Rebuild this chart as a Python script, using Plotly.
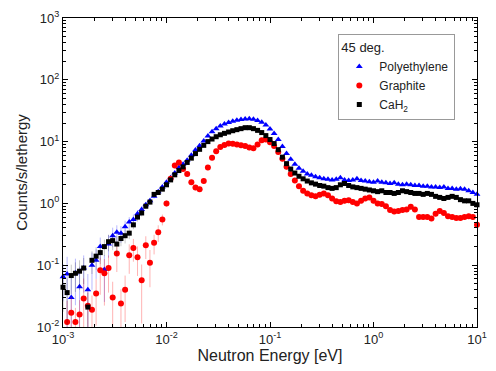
import plotly.graph_objects as go

# energy grid: 25 log-spaced bins per decade (mantissas), 1e-3 .. 10 eV
MANTISSA = [1.000, 1.096, 1.202, 1.318, 1.445, 1.585, 1.738, 1.905, 2.089, 2.291,
            2.512, 2.754, 3.020, 3.311, 3.631, 3.981, 4.365, 4.786, 5.248, 5.754,
            6.310, 6.918, 7.586, 8.318, 9.120]
DECADES = [1e-3, 1e-2, 1e-1, 1e0]
energy = [m * d for d in DECADES for m in MANTISSA] + [10.0]

polyethylene = [
    0.065, 0.072, 0.030, 0.075, 0.045, 0.090, 0.040, 0.100, 0.120, 0.200,
    0.085, 0.220, 0.300, 0.340, 0.330, 0.420, 0.500, 0.550, 0.680, 0.800,
    0.950, 1.10, 1.30, 1.55, 1.85, 2.20,
    2.6, 3.1, 3.8, 4.3, 5.0, 6.0, 7.3, 8.6, 10.2, 12.3,
    14.5, 16.2, 17.8, 19.2, 20.3, 21.3, 22.2, 22.8, 23.3, 23.5,
    23.0, 22.0, 20.5, 18.5, 16.0, 13.5, 10.8, 8.3, 6.4, 5.2,
    4.3, 3.7, 3.3, 3.0, 2.85, 2.7, 2.6, 2.5, 2.45, 2.4,
    2.45, 2.6, 2.4, 2.35, 2.4, 2.5, 2.35, 2.3, 2.25, 2.2,
    2.3, 2.2, 2.15, 2.1, 2.15, 2.05, 2.0, 2.05, 2.0, 1.95,
    1.95, 1.9, 1.9, 1.85, 1.85, 1.8, 1.85, 1.75, 1.75, 1.7,
    1.72, 1.7, 1.6, 1.5, 1.4]

graphite = [
    None, 0.012, 0.017, 0.012, 0.016, 0.029, 0.022, 0.019, 0.035, 0.083,
    0.074, 0.090, 0.030, 0.155, 0.024, 0.040, 0.145, 0.190, 0.134, 0.057,
    0.210, 0.110, 0.230, 0.340, 0.550, 1.00,
    2.5, 4.1, 4.6, 3.6, 3.0, 2.2, 1.8, 1.7, 2.3, 3.8,
    5.5, 7.0, 8.2, 8.8, 9.3, 9.2, 9.0, 8.7, 8.5, 8.0,
    7.8, 9.0, 10.5, 10.8, 9.8, 8.5, 6.8, 5.3, 3.9, 3.0,
    2.35, 1.9, 1.6, 1.45, 1.35, 1.3, 1.38, 1.45, 1.35, 1.2,
    1.08, 1.05, 1.1, 1.12, 1.05, 1.0, 1.1, 1.2, 1.25, 1.1,
    1.0, 0.98, 0.9, 0.78, 0.74, 0.75, 0.78, 0.8, 0.88, 0.8,
    0.6, 0.6, 0.6, 0.57, 0.68, 0.75, 0.7, 0.62, 0.6, 0.58,
    0.58, 0.6, 0.62, 0.6, 0.45]

cah2 = [
    0.044, 0.036, 0.068, 0.074, 0.080, 0.090, 0.021, 0.120, 0.140, 0.160,
    0.200, 0.240, 0.250, 0.220, 0.270, 0.300, 0.330, 0.450, 0.600, 0.700,
    0.900, 1.05, 1.40, 1.50, 1.70, 2.00,
    2.4, 2.9, 3.4, 3.9, 4.6, 5.4, 6.4, 7.5, 8.7, 10.0,
    11.0, 12.0, 12.9, 13.6, 14.3, 15.0, 15.6, 16.2, 16.8, 16.8,
    16.2, 15.2, 14.0, 12.5, 10.8, 9.3, 7.4, 5.6, 4.4, 3.6,
    3.1, 2.75, 2.5, 2.3, 2.15, 2.05, 1.95, 1.9, 1.8, 1.75,
    1.8, 2.0, 2.1, 1.95, 1.85, 1.8, 1.75, 1.7, 1.65, 1.6,
    1.55, 1.6, 1.5, 1.5, 1.45, 1.5, 1.6, 1.55, 1.5, 1.45,
    1.45, 1.4, 1.45, 1.4, 1.3, 1.25, 1.2, 1.25, 1.3, 1.25,
    1.15, 1.1, 1.1, 1.0, 0.95]

# relative statistical errors: low-energy bins listed, constant above
REL_ERR_POLY_LOW = [0.6, 0.9, 1.2, 0.7, 1.1, 0.6, 0.8, 0.6, 0.5, 0.4, 0.7, 0.4, 0.35,
                    0.3, 0.3, 0.25, 0.2, 0.2, 0.15, 0.12, 0.1, 0.1, 0.08, 0.07, 0.06, 0.05]
REL_ERR_GRAPH_LOW = [0.0, 1.2, 0.8, 0.7, 0.7, 1.1, 0.7, 0.7, 0.7, 0.6, 0.7, 0.6, 0.8,
                     0.5, 0.7, 0.7, 0.5, 0.4, 0.5, 0.8, 0.4, 0.6, 0.35, 0.3, 0.2, 0.12]
REL_ERR_CAH2_LOW = [0.6, 0.7, 0.5, 0.5, 0.5, 0.45, 0.7, 0.4, 0.4, 0.35, 0.3, 0.3, 0.3,
                    0.35, 0.25, 0.25, 0.2, 0.15, 0.15, 0.12, 0.1, 0.1, 0.08, 0.07, 0.06, 0.05]
REL_ERR_POLY_HIGH = 0.02
REL_ERR_GRAPH_HIGH = 0.1
REL_ERR_CAH2_HIGH = 0.02

# tick labels
X_TICKS = [1e-3, 1e-2, 1e-1, 1e0, 1e1]
X_TICKTEXT = ["10<sup>-3</sup>", "10<sup>-2</sup>", "10<sup>-1</sup>",
              "10<sup>0</sup>", "10<sup>1</sup>"]
Y_TICKS = [1e-2, 1e-1, 1e0, 1e1, 1e2, 1e3]
Y_TICKTEXT = ["10<sup>-2</sup>", "10<sup>-1</sup>", "10<sup>0</sup>",
              "10<sup>1</sup>", "10<sup>2</sup>", "10<sup>3</sup>"]
X_MINOR = [m * 10.0 ** d for d in range(-3, 1) for m in range(2, 10)]
Y_MINOR = [m * 10.0 ** d for d in range(-2, 3) for m in range(2, 10)]


def abs_err(vals, low, high):
    rel = low + [high] * (len(vals) - len(low))
    return [(v * r if v is not None else 0) for v, r in zip(vals, rel)]


FONT = "Liberation Sans, Arial, sans-serif"

fig = go.Figure()

series = [
    ("Polyethylene", polyethylene, REL_ERR_POLY_LOW, REL_ERR_POLY_HIGH,
     "#0000ff", "rgba(0,0,255,0.28)", "triangle-up", 6),
    ("Graphite", graphite, REL_ERR_GRAPH_LOW, REL_ERR_GRAPH_HIGH,
     "#ff0000", "rgba(255,0,0,0.30)", "circle", 6),
    ("CaH<sub>2</sub>", cah2, REL_ERR_CAH2_LOW, REL_ERR_CAH2_HIGH,
     "#000000", "rgba(0,0,0,0.22)", "square", 5),
]

for name, vals, low, high, col, ecol, sym, size in series:
    err = abs_err(vals, low, high)
    fig.add_trace(go.Scatter(
        x=energy, y=vals, mode="markers", name=name,
        marker=dict(symbol=sym, color=col, size=size, line=dict(width=0)),
        error_y=dict(type="data", array=err, symmetric=True, color=ecol,
                     thickness=1, width=0, visible=True),
        cliponaxis=False,
    ))

axis_common = dict(
    type="log", showline=True, linecolor="black", linewidth=1, mirror="ticks",
    ticks="inside", ticklen=5, tickcolor="black", tickwidth=1,
    showgrid=False, zeroline=False, tickmode="array",
    ticklabeloverflow="allow",
    tickfont=dict(family=FONT, size=13, color="#222"),
)

fig.update_xaxes(range=[-3, 1], tickvals=X_TICKS, ticktext=X_TICKTEXT,
                 minor=dict(ticks="inside", ticklen=3, tickcolor="black",
                            showgrid=False, tickmode="array", tickvals=X_MINOR),
                 title=dict(text="Neutron Energy [eV]", standoff=4,
                            font=dict(family=FONT, size=16, color="#222")),
                 **axis_common)
fig.update_yaxes(range=[-2, 3], tickvals=Y_TICKS, ticktext=Y_TICKTEXT,
                 minor=dict(ticks="inside", ticklen=3, tickcolor="black",
                            showgrid=False, tickmode="array", tickvals=Y_MINOR),
                 title=dict(text="Counts/s/lethergy", standoff=5,
                            font=dict(family=FONT, size=15, color="#222")),
                 **axis_common)

fig.update_layout(
    width=496, height=371,
    margin=dict(l=63, r=9, t=17, b=44),
    paper_bgcolor="white", plot_bgcolor="white",
    font=dict(family=FONT, color="#222"),
    legend=dict(
        x=0.665, y=0.948, xanchor="left", yanchor="top",
        bgcolor="white", bordercolor="#999", borderwidth=1,
        title=dict(text="45 deg.", font=dict(family=FONT, size=13, color="#222")),
        font=dict(family=FONT, size=12, color="#222"),
        tracegroupgap=0,
    ),
    showlegend=True,
)

fig.write_html("out.html")
